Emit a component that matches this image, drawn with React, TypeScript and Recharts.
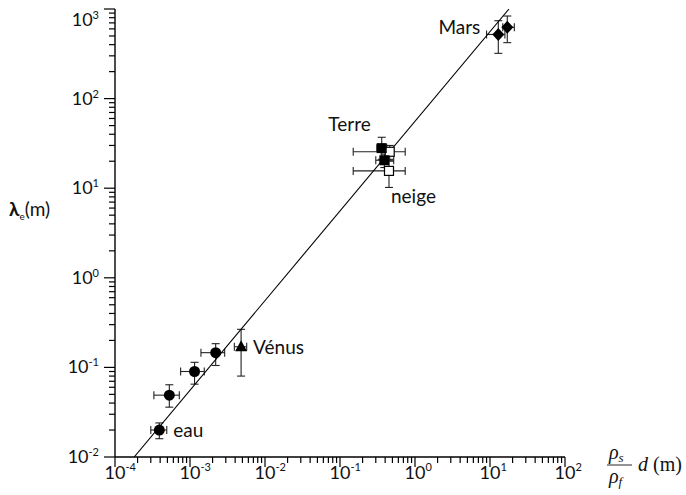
import React from 'react';
import { ScatterChart, Scatter, XAxis, YAxis, ErrorBar, ReferenceDot } from 'recharts';

// ---- axis ticks (decades) ----
const xDecades = [-4, -3, -2, -1, 0, 1, 2];
const yDecades = [-2, -1, 0, 1, 2, 3];

// ---- series: eau (circles) ----
const eauX = [3.9e-4, 5.3e-4, 1.15e-3, 2.2e-3];
const eauY = [0.020, 0.049, 0.090, 0.146];
const eauXLow = [3.0e-4, 3.3e-4, 7.5e-4, 1.4e-3];
const eauXHigh = [4.9e-4, 7.2e-4, 1.55e-3, 2.9e-3];
const eauYLow = [0.016, 0.036, 0.065, 0.105];
const eauYHigh = [0.024, 0.064, 0.114, 0.184];

// ---- Vénus (triangle) ----
const venusX = [4.8e-3];
const venusY = [0.17];
const venusXLow = [3.9e-3];
const venusXHigh = [5.7e-3];
const venusYLow = [0.080];
const venusYHigh = [0.266];

// ---- Terre (filled squares) ----
const terreX = [0.36, 0.39];
const terreY = [28, 20.5];
const terreXLow = [0.31, 0.30];
const terreXHigh = [0.42, 0.52];
const terreYLow = [21, 17];
const terreYHigh = [37, 24];

// ---- neige (open squares) ----
const neigeX = [0.46, 0.45];
const neigeY = [25.5, 15.6];
const neigeXLow = [0.15, 0.15];
const neigeXHigh = [0.74, 0.74];
const neigeYLow = [20, 10.2];
const neigeYHigh = [30, 21];

// ---- Mars (diamonds) ----
const marsX = [12.9, 17];
const marsY = [520, 625];
const marsXLow = [9.0, 14.8];
const marsXHigh = [15.8, 21.1];
const marsYLow = [320, 421];
const marsYHigh = [740, 835];

// ---- fit line endpoints ----
const fitX = [1.8e-4, 17.9];
const fitY = [0.01, 1000];

const build = (xs: number[], ys: number[], xl: number[], xh: number[], yl: number[], yh: number[]) =>
  xs.map((x, i) => ({ x, y: ys[i], ex: [x - xl[i], xh[i] - x], ey: [ys[i] - yl[i], yh[i] - ys[i]] }));

const eauData = build(eauX, eauY, eauXLow, eauXHigh, eauYLow, eauYHigh);
const venusData = build(venusX, venusY, venusXLow, venusXHigh, venusYLow, venusYHigh);
const terreData = build(terreX, terreY, terreXLow, terreXHigh, terreYLow, terreYHigh);
const neigeData = build(neigeX, neigeY, neigeXLow, neigeXHigh, neigeYLow, neigeYHigh);
const marsData = build(marsX, marsY, marsXLow, marsXHigh, marsYLow, marsYHigh);
const fitData = fitX.map((x, i) => ({ x, y: fitY[i] }));

const makeTicks = (decs: number[]) => {
  const t: number[] = [];
  decs.forEach((d, i) => {
    if (i === decs.length - 1) { t.push(Math.pow(10, d)); return; }
    for (let m = 1; m <= 9; m++) t.push(m * Math.pow(10, d));
  });
  return t;
};
const xTicks = makeTicks(xDecades);
const yTicks = makeTicks(yDecades);

const FONT = 'Lato, "Open Sans", sans-serif';
const INK = '#111';

const isMajor = (v: number) => {
  const l = Math.log10(v);
  return Math.abs(l - Math.round(l)) < 1e-6;
};

const XTick = (props: any) => {
  const { x, y, payload } = props;
  const v = payload.value;
  const major = isMajor(v);
  const e = Math.round(Math.log10(v));
  return (
    <g>
      <line x1={x} x2={x} y1={y} y2={y + (major ? 10 : 6)} stroke="#000" strokeWidth={1.2} />
      {major && (
        <g>
          <text x={x} y={y + 22} textAnchor="middle" fontFamily={FONT} fontSize={18} fill={INK}>10</text>
          <text x={x + 10.5} y={y + 14} textAnchor="start" fontFamily={FONT} fontSize={11} fill={INK}>{String(e)}</text>
        </g>
      )}
    </g>
  );
};

const YTick = (props: any) => {
  const { x, y, payload } = props;
  const v = payload.value;
  const major = isMajor(v);
  const e = Math.round(Math.log10(v));
  const base = v >= 999 ? y + 17 : y + 6;
  return (
    <g>
      <line x1={x - (major ? 11 : 6)} x2={x} y1={y} y2={y} stroke="#000" strokeWidth={1.2} />
      {major && (
        <text x={x - 16} y={base} textAnchor="end" fontFamily={FONT} fontSize={18} fill={INK}>
          10<tspan dy={-7} fontSize={11}>{String(e)}</tspan>
        </text>
      )}
    </g>
  );
};

const Circle = (p: any) => <circle cx={p.cx} cy={p.cy} r={5.5} fill="#000" />;
const Triangle = (p: any) => (
  <polygon points={`${p.cx},${p.cy - 6.5} ${p.cx - 6},${p.cy + 4.5} ${p.cx + 6},${p.cy + 4.5}`} fill="#000" />
);
const FilledSquare = (p: any) => <rect x={p.cx - 5} y={p.cy - 5} width={10} height={10} fill="#000" />;
const OpenSquare = (p: any) => (
  <rect x={p.cx - 4.5} y={p.cy - 4.5} width={9} height={9} fill="#fff" stroke="#000" strokeWidth={1.2} />
);
const Diamond = (p: any) => (
  <polygon points={`${p.cx},${p.cy - 6.5} ${p.cx + 6},${p.cy} ${p.cx},${p.cy + 6.5} ${p.cx - 6},${p.cy}`} fill="#000" />
);
const NoShape = () => <g />;

const labels = [
  { text: 'Mars', x: marsX[0], y: marsY[0], dx: -18, dy: 0, anchor: 'end' },
  { text: 'Terre', x: terreX[0], y: terreY[0], dx: -11, dy: -17, anchor: 'end' },
  { text: 'neige', x: neigeX[1], y: neigeY[1], dx: 2, dy: 32, anchor: 'start' },
  { text: 'Vénus', x: venusX[0], y: venusY[0], dx: 12, dy: 7, anchor: 'start' },
  { text: 'eau', x: eauX[0], y: eauY[0], dx: 14, dy: 7, anchor: 'start' },
];

const EB = (dir: 'x' | 'y') => (
  <ErrorBar dataKey={dir === 'x' ? 'ex' : 'ey'} direction={dir} width={4} stroke="#222" strokeWidth={1.1} isAnimationActive={false} />
);

export default function App() {
  return (
    <div style={{ position: 'absolute', left: 0, top: 0, width: 686, height: 495, background: '#fff' }}>
      <ScatterChart width={686} height={495} margin={{ top: 9, right: 121, bottom: 8, left: 55 }}>
        <XAxis
          type="number"
          dataKey="x"
          scale="log"
          domain={[1e-4, 100]}
          allowDataOverflow
          ticks={xTicks}
          interval={0}
          tickLine={false}
          tickSize={0}
          tickMargin={0}
          height={30}
          axisLine={{ stroke: '#000', strokeWidth: 1.4 }}
          tick={(p: any) => <XTick {...p} />}
        />
        <YAxis
          type="number"
          dataKey="y"
          scale="log"
          domain={[0.01, 1000]}
          allowDataOverflow
          ticks={yTicks}
          interval={0}
          tickLine={false}
          tickSize={0}
          tickMargin={0}
          width={60}
          axisLine={{ stroke: '#000', strokeWidth: 1.4 }}
          tick={(p: any) => <YTick {...p} />}
        />
        <Scatter data={fitData} line={{ stroke: '#000', strokeWidth: 1.1 }} shape={NoShape} isAnimationActive={false} />
        <Scatter data={eauData} shape={Circle} isAnimationActive={false}>
          {EB('x')}
          {EB('y')}
        </Scatter>
        <Scatter data={venusData} shape={Triangle} isAnimationActive={false}>
          {EB('x')}
          {EB('y')}
        </Scatter>
        <Scatter data={neigeData} shape={OpenSquare} isAnimationActive={false}>
          {EB('x')}
          {EB('y')}
        </Scatter>
        <Scatter data={terreData} shape={FilledSquare} isAnimationActive={false}>
          {EB('x')}
          {EB('y')}
        </Scatter>
        <Scatter data={marsData} shape={Diamond} isAnimationActive={false}>
          {EB('x')}
          {EB('y')}
        </Scatter>
        {labels.map((l) => (
          <ReferenceDot
            key={l.text}
            x={l.x}
            y={l.y}
            r={0}
            shape={(p: any) => (
              <text x={p.cx + l.dx} y={p.cy + l.dy} textAnchor={l.anchor as any} fontFamily={FONT} fontSize={19} fill={INK}>
                {l.text}
              </text>
            )}
          />
        ))}
      </ScatterChart>
      <svg width={686} height={495} style={{ position: 'absolute', left: 0, top: 0, pointerEvents: 'none' }}>
        <text x={9} y={216} fontFamily={FONT} fontSize={19} fill={INK}>
          <tspan fontWeight="bold">λ</tspan>
          <tspan dy={4} fontSize={10}>e</tspan>
          <tspan dy={-4}>(m)</tspan>
        </text>
        <g fontFamily='"Liberation Serif", "DejaVu Serif", serif' fill={INK}>
          <text x={609} y={459} fontSize={20} fontStyle="italic">
            ρ<tspan dy={3} fontSize={13}>s</tspan>
          </text>
          <line x1={607} x2={632} y1={465} y2={465} stroke={INK} strokeWidth={0.9} />
          <text x={609} y={483} fontSize={20} fontStyle="italic">
            ρ<tspan dy={3} fontSize={13}>f</tspan>
          </text>
          <text x={638} y={471} fontSize={20} fontStyle="italic">d</text>
          <text x={653} y={471} fontSize={20}>(m)</text>
        </g>
      </svg>
    </div>
  );
}
